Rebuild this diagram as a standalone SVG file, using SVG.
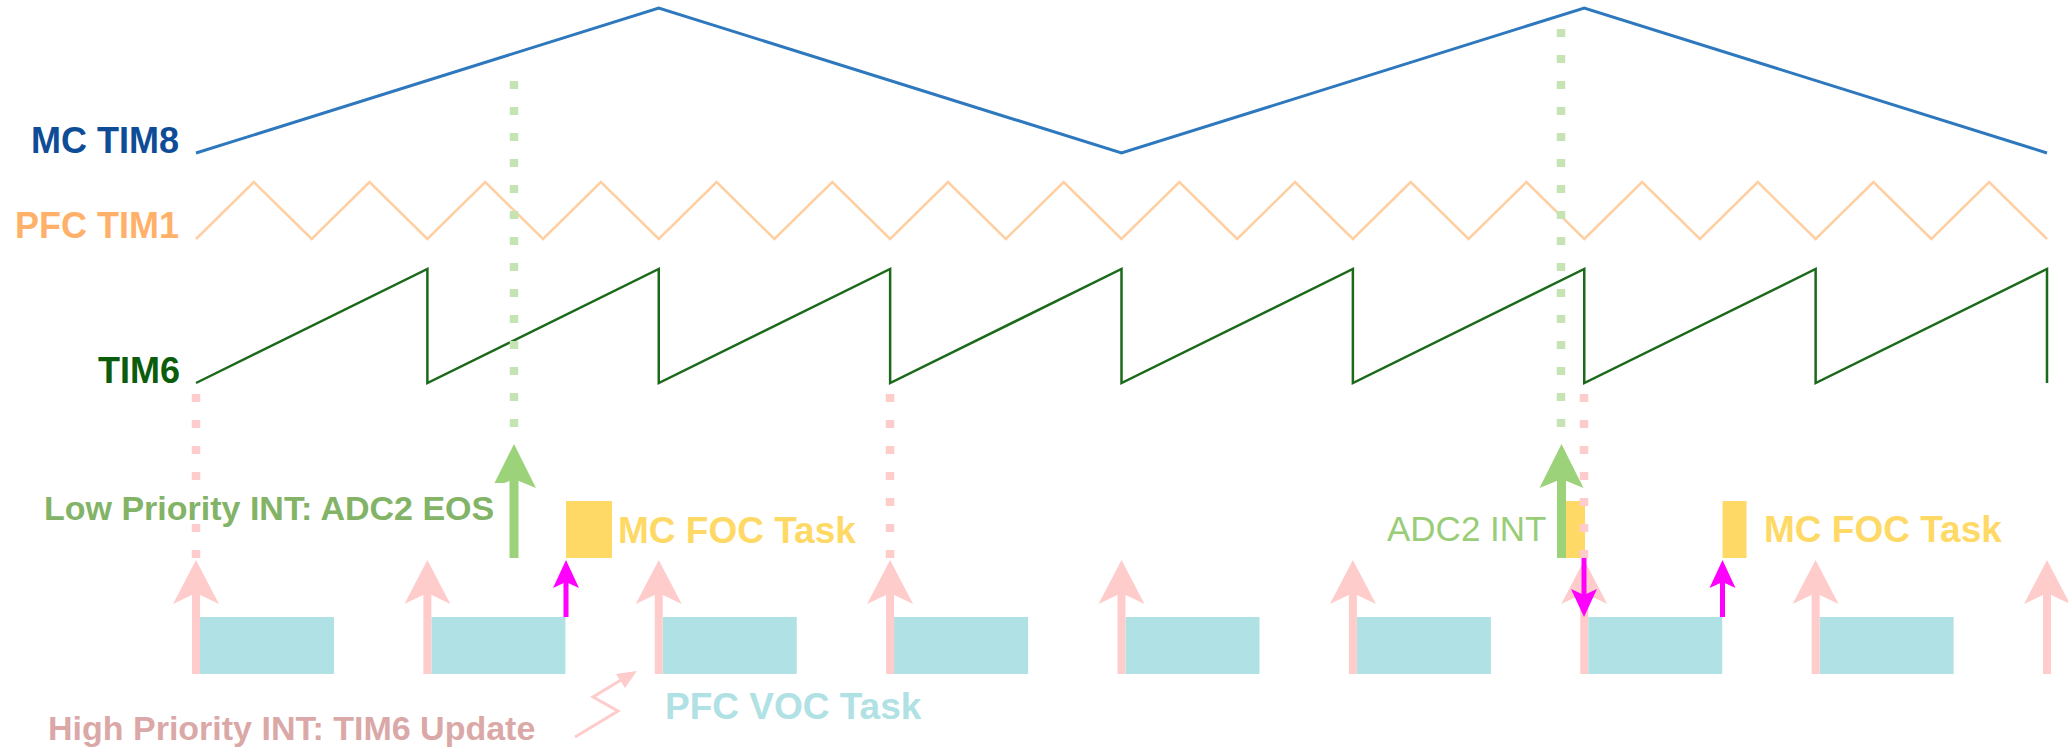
<svg xmlns="http://www.w3.org/2000/svg" xmlns:xlink="http://www.w3.org/1999/xlink" width="2068" height="751" viewBox="0 0 2068 751">
<style>
  .lbl { font-family: "Liberation Sans", Arial, sans-serif; font-weight: bold; }
  .reg { font-family: "Liberation Sans", Arial, sans-serif; font-weight: normal; }
  .wave { fill: none; stroke-linejoin: miter; }
  .dotG { stroke: #C5E3B3; stroke-width: 8.5; stroke-dasharray: 8 18; fill: none; }
  .dotP { stroke: #FFCCCC; stroke-width: 8.5; stroke-dasharray: 8 18; fill: none; }
  .pfc { fill: #B0E1E4; }
  .foc { fill: #FFD966; }
  .pink { fill: #FFCCCC; }
  .green { fill: #9BD27A; }
  .mag { fill: #FF00FF; }
</style>
<defs>
  <path id="pinkHead" d="M0,0 L23,44 L0,33 L-23,44 Z"/>
  <path id="greenHead" d="M0,0 L22,44 L0,35 L-22,44 Z"/>
  <path id="magUp" d="M0,0 L13,28 L0,22 L-13,28 Z"/>
  <path id="magDown" d="M0,0 L13,-28 L0,-22 L-13,-28 Z"/>
  <g id="pinkArrow">
    <rect x="-4" y="590" width="8" height="84" class="pink"/>
    <use xlink:href="#pinkHead" y="560" class="pink"/>
  </g>
</defs>
<rect width="2068" height="751" fill="#FFFFFF"/>

<g id="tim8">
  <polyline class="wave" stroke="#2E78BE" stroke-width="3" points="196,153 658.75,8 1121.5,153 1584.25,8 2047,153"/>
  <text class="lbl" x="179" y="153" font-size="36" fill="#0F4C97" text-anchor="end">MC TIM8</text>
</g>

<g id="tim1">
  <polyline class="wave" stroke="#FFCFA1" stroke-width="2.5" points="196,239 253.84,182 311.69,239 369.53,182 427.38,239 485.22,182 543.06,239 600.91,182 658.75,239 716.59,182 774.44,239 832.28,182 890.13,239 947.97,182 1005.81,239 1063.66,182 1121.5,239 1179.34,182 1237.19,239 1295.03,182 1352.88,239 1410.72,182 1468.56,239 1526.41,182 1584.25,239 1642.09,182 1699.94,239 1757.78,182 1815.63,239 1873.47,182 1931.31,239 1989.16,182 2047,239"/>
  <text class="lbl" x="179" y="238" font-size="36" fill="#FFB16A" text-anchor="end">PFC TIM1</text>
</g>

<g id="tim6">
  <polyline class="wave" stroke="#1B6A1B" stroke-width="2.5" points="196,383 427.38,269 427.38,383 658.75,269 658.75,383 890.13,269 890.13,383 1121.5,269 1121.5,383 1352.88,269 1352.88,383 1584.25,269 1584.25,383 1815.63,269 1815.63,383 2047,269 2047,383"/>
  <text class="lbl" x="180" y="383" font-size="36" fill="#0B5D0B" text-anchor="end">TIM6</text>
</g>

<g id="pfc-voc-tasks">
  <rect class="pfc" x="200" y="617" width="134" height="57"/>
  <rect class="pfc" x="431.4" y="617" width="134" height="57"/>
  <rect class="pfc" x="662.75" y="617" width="134" height="57"/>
  <rect class="pfc" x="894.1" y="617" width="134" height="57"/>
  <rect class="pfc" x="1125.5" y="617" width="134" height="57"/>
  <rect class="pfc" x="1356.9" y="617" width="134" height="57"/>
  <rect class="pfc" x="1588.25" y="617" width="134" height="57"/>
  <rect class="pfc" x="1819.6" y="617" width="134" height="57"/>
  <text class="lbl" x="665" y="719" font-size="37" fill="#B0E1E4">PFC VOC Task</text>
</g>

<g id="mc-foc-tasks">
  <rect class="foc" x="566" y="501" width="46" height="57"/>
  <rect class="foc" x="1566" y="501" width="19" height="57"/>
  <rect class="foc" x="1722.5" y="501" width="24" height="57"/>
  <text class="lbl" x="618" y="543" font-size="37" fill="#FFD966">MC FOC Task</text>
  <text class="lbl" x="1764" y="542" font-size="37" fill="#FFD966">MC FOC Task</text>
</g>

<g id="connectors">
  <!-- dotted guide lines -->
  <line class="dotG" x1="514" y1="81" x2="514" y2="428"/>
  <line class="dotG" x1="1561" y1="29" x2="1561" y2="428"/>
  <line class="dotP" x1="196" y1="394" x2="196" y2="559"/>
  <line class="dotP" x1="890" y1="394" x2="890" y2="559"/>
  <!-- pink TIM6 update arrows -->
  <use xlink:href="#pinkArrow" x="196"/>
  <use xlink:href="#pinkArrow" x="427.4"/>
  <use xlink:href="#pinkArrow" x="658.75"/>
  <use xlink:href="#pinkArrow" x="890.1"/>
  <use xlink:href="#pinkArrow" x="1121.5"/>
  <use xlink:href="#pinkArrow" x="1352.9"/>
  <use xlink:href="#pinkArrow" x="1584.25"/>
  <use xlink:href="#pinkArrow" x="1815.6"/>
  <use xlink:href="#pinkArrow" x="2047"/>
  <line class="dotP" x1="1584" y1="394" x2="1584" y2="559"/>
  <!-- green ADC2 arrows -->
  <rect class="green" x="509.5" y="475" width="9" height="83"/>
  <use xlink:href="#greenHead" x="514" y="444" class="green"/>
  <rect class="green" x="1557" y="475" width="9" height="83"/>
  <use xlink:href="#greenHead" x="1561.5" y="444" class="green"/>
  <!-- magenta arrows -->
  <rect class="mag" x="563.5" y="580" width="5" height="37"/>
  <use xlink:href="#magUp" x="566" y="560" class="mag"/>
  <rect class="mag" x="1581.5" y="558" width="5" height="39"/>
  <use xlink:href="#magDown" x="1584" y="617" class="mag"/>
  <rect class="mag" x="1720" y="580" width="5" height="37"/>
  <use xlink:href="#magUp" x="1722.5" y="560" class="mag"/>
  <!-- lightning pointer -->
  <polyline points="575,737 618,711 593,697 626,677" fill="none" stroke="#FFCCCC" stroke-width="3"/>
  <polygon points="637,671 616,674 625,688" fill="#FFCCCC"/>
</g>

<g id="label-low">
  <rect x="40" y="483" width="466" height="40" fill="#FFFFFF"/>
  <text class="lbl" x="44" y="520" font-size="34" fill="#82B366">Low Priority INT: ADC2 EOS</text>
</g>
<g id="label-adc2int">
  <text class="reg" x="1387" y="541" font-size="35" fill="#9ACD78">ADC2 INT</text>
</g>
<g id="label-high">
  <text class="lbl" x="48" y="740" font-size="34" fill="#DBA8A8">High Priority INT: TIM6 Update</text>
</g>
</svg>
